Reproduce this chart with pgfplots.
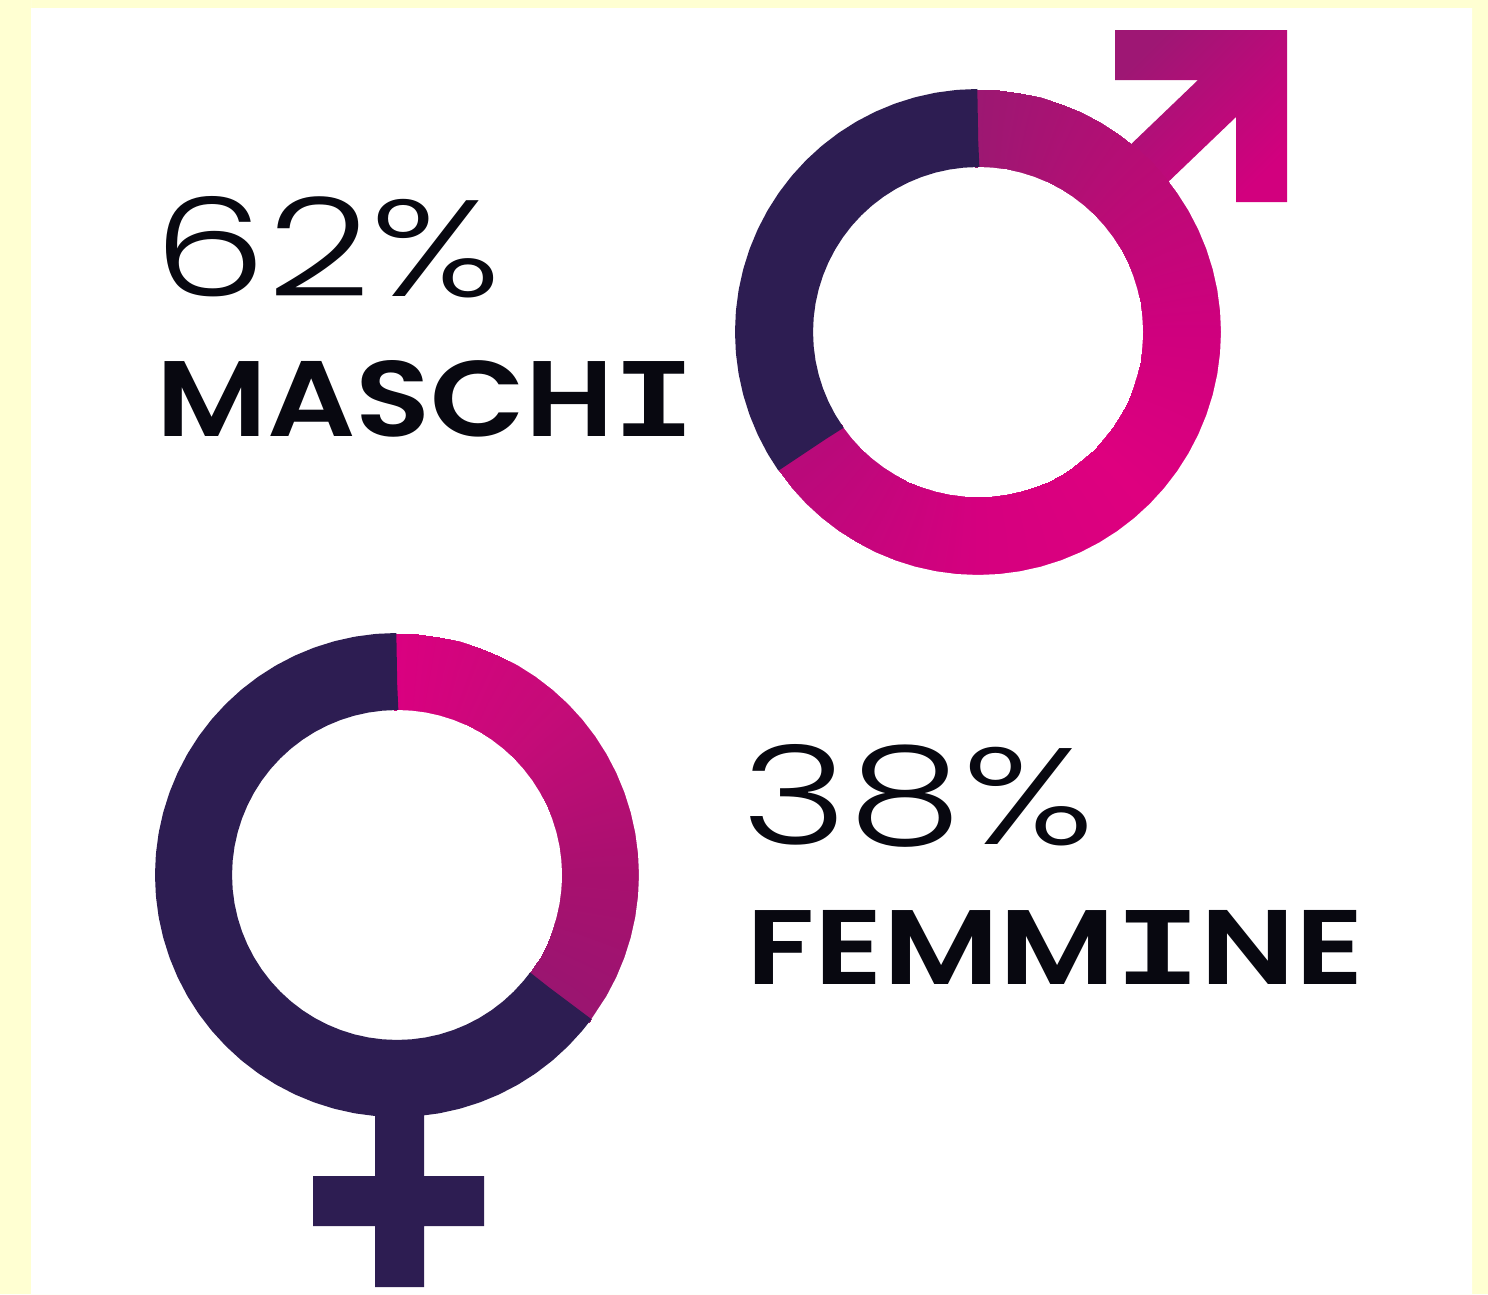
\documentclass[border=0pt]{standalone}
\usepackage{pgfplots}
\pgfplotsset{compat=1.18}
\usepgfplotslibrary{polar}
\usepackage{fontspec}
\setmainfont{Poppins}
\newfontfamily\lightf{Poppins Light}
\newfontfamily\boldf{Poppins SemiBold}
\newfontfamily\slabf{Liberation Mono Bold}
\definecolor{bgy}{RGB}{255,255,210}
\definecolor{dark}{RGB}{45,29,82}
\definecolor{ink}{RGB}{8,8,16}
\newcommand{\boxtext}[3]{\resizebox{#1pt}{#2pt}{\color{ink}#3}}
\newcommand{\slabI}{\scalebox{1.1}[1.06]{\slabf I}}
\pgfplotstableread{
a r
91 165
85 165
80 165
75 165
70 165
65 165
60 165
55 165
50 165
45 165
40 165
35 165
30 165
25 165
20 165
15 165
10 165
5 165
0 165
-5 165
-10 165
-15 165
-20 165
-25 165
-30 165
-35 165
-40 165
-45 165
-50 165
-55 165
-60 165
-65 165
-70 165
-75 165
-80 165
-85 165
-90 165
-95 165
-100 165
-105 165
-110 165
-115 165
-120 165
-125 165
-130 165
-135 165
-140 165
-146 165
91 243
85 243
80 243
75 243
70 243
65 243
60 243
55 243
50 243
45 243
40 243
35 243
30 243
25 243
20 243
15 243
10 243
5 243
0 243
-5 243
-10 243
-15 243
-20 243
-25 243
-30 243
-35 243
-40 243
-45 243
-50 243
-55 243
-60 243
-65 243
-70 243
-75 243
-80 243
-85 243
-90 243
-95 243
-100 243
-105 243
-110 243
-115 243
-120 243
-125 243
-130 243
-135 243
-140 243
-146 243
}\maschi
\pgfplotstableread{
a r
91 165
85 165
80 165
75 165
70 165
65 165
60 165
55 165
50 165
45 165
40 165
35 165
30 165
25 165
20 165
15 165
10 165
5 165
0 165
-5 165
-10 165
-15 165
-20 165
-25 165
-30 165
-37.5 165
91 242
85 242
80 242
75 242
70 242
65 242
60 242
55 242
50 242
45 242
40 242
35 242
30 242
25 242
20 242
15 242
10 242
5 242
0 242
-5 242
-10 242
-15 242
-20 242
-25 242
-30 242
-37.5 242
}\femmine
\begin{document}
\begin{tikzpicture}
\begin{axis}[name=page,at={(0pt,0pt)},anchor=south west,scale only axis,width=1488pt,height=1294pt,
  xmin=0,xmax=1488,ymin=0,ymax=1294,y dir=reverse,hide axis,clip=false]
\addplot[fill=bgy,draw=none] coordinates {(0,0)(1488,0)(1488,1294)(0,1294)} \closedcycle;
\addplot[fill=white,draw=none] coordinates {(31,8)(1472,8)(1472,1294)(31,1294)} \closedcycle;
% arrow of the male sign
\addplot[draw=none,shade,shading=axis,left color={rgb,255:red,158;green,23;blue,116},right color={rgb,255:red,210;green,0;blue,126},shading angle=45] coordinates {(1115,30)(1287,30)(1287,202)(1236,202)(1236,117)(1165,185)(1125,150)(1198,80)(1115,80)} -- cycle;
% cross of the female sign
\addplot[fill=dark,draw=none] coordinates {(375,1100)(424,1100)(424,1176)(484,1176)(484,1226)(424,1226)(424,1287)(375,1287)(375,1226)(313,1226)(313,1176)(375,1176)} -- cycle;
\node[anchor=south west,inner sep=0pt] at (axis cs:153.6,298) {\boxtext{347}{100}{\lightf 62\%}};
\node[anchor=south west,inner sep=0pt] at (axis cs:156,437) {\boxtext{539}{76}{\boldf MASCH\slabI}};
\node[anchor=south west,inner sep=0pt] at (axis cs:741.5,848) {\boxtext{353}{100}{\lightf 38\%}};
\node[anchor=south west,inner sep=0pt] at (axis cs:746,985) {\boxtext{617}{74}{\boldf FEMM\slabI NE}};
\end{axis}
% male ring
\begin{polaraxis}[at={(978pt,962pt)},anchor=center,scale only axis,width=486pt,height=486pt,
  xmin=0,xmax=360,ymin=0,ymax=243,hide axis,clip=false,
  colormap={mring}{rgb255(0)=(184,10,122) rgb255(55)=(213,0,127) rgb255(100)=(222,0,127) rgb255(145)=(207,0,126) rgb255(190)=(184,12,117) rgb255(235)=(156,24,114)}]
\addplot[surf,shader=interp,mesh/rows=2,point meta=x,point meta min=-145,point meta max=90] table[x=a,y=r] {\maschi};
% smooth edges over the shaded ring
\addplot[draw=white,line width=2pt] coordinates {(90,164)(85,164)(80,164)(75,164)(70,164)(65,164)(60,164)(55,164)(50,164)(45,164)(40,164)(35,164)(30,164)(25,164)(20,164)(15,164)(10,164)(5,164)(0,164)(-5,164)(-10,164)(-15,164)(-20,164)(-25,164)(-30,164)(-35,164)(-40,164)(-45,164)(-50,164)(-55,164)(-60,164)(-65,164)(-70,164)(-75,164)(-80,164)(-85,164)(-90,164)(-95,164)(-100,164)(-105,164)(-110,164)(-115,164)(-120,164)(-125,164)(-130,164)(-135,164)(-140,164)(-145,164)};
\addplot[draw=white,line width=2pt] coordinates {(90,244)(85,244)(80,244)(75,244)(70,244)(65,244)(60,244)(55,244)(51,244)};
\addplot[draw=white,line width=2pt] coordinates {(38,244)(35,244)(30,244)(25,244)(20,244)(15,244)(10,244)(5,244)(0,244)(-5,244)(-10,244)(-15,244)(-20,244)(-25,244)(-30,244)(-35,244)(-40,244)(-45,244)(-50,244)(-55,244)(-60,244)(-65,244)(-70,244)(-75,244)(-80,244)(-85,244)(-90,244)(-95,244)(-100,244)(-105,244)(-110,244)(-115,244)(-120,244)(-125,244)(-130,244)(-135,244)(-140,244)(-145,244)};
\addplot[draw=dark,line width=78pt,line join=round] coordinates {(90,204)(90.1,204)(95,204)(100,204)(105,204)(110,204)(115,204)(120,204)(125,204)(130,204)(135,204)(140,204)(145,204)(150,204)(155,204)(160,204)(165,204)(170,204)(175,204)(180,204)(185,204)(190,204)(195,204)(200,204)(205,204)(210,204)(214.9,204)(215,204)};
\end{polaraxis}
% female ring
\begin{polaraxis}[at={(397pt,419pt)},anchor=center,scale only axis,width=484pt,height=484pt,
  xmin=0,xmax=360,ymin=0,ymax=242,hide axis,clip=false,
  colormap={fring}{rgb255(0)=(154,21,112) rgb255(36)=(168,16,111) rgb255(81)=(196,12,120) rgb255(126)=(218,0,128)}]
\addplot[surf,shader=interp,mesh/rows=2,point meta=x,point meta min=-36.5,point meta max=90] table[x=a,y=r] {\femmine};
\addplot[draw=white,line width=2pt] coordinates {(90,164)(85,164)(80,164)(75,164)(70,164)(65,164)(60,164)(55,164)(50,164)(45,164)(40,164)(35,164)(30,164)(25,164)(20,164)(15,164)(10,164)(5,164)(0,164)(-5,164)(-10,164)(-15,164)(-20,164)(-25,164)(-30,164)(-36.5,164)};
\addplot[draw=white,line width=2pt] coordinates {(90,243)(85,243)(80,243)(75,243)(70,243)(65,243)(60,243)(55,243)(50,243)(45,243)(40,243)(35,243)(30,243)(25,243)(20,243)(15,243)(10,243)(5,243)(0,243)(-5,243)(-10,243)(-15,243)(-20,243)(-25,243)(-30,243)(-36.5,243)};
\addplot[draw=dark,line width=77pt,line join=round] coordinates {(90,203.5)(90.1,203.5)(95,203.5)(100,203.5)(105,203.5)(110,203.5)(115,203.5)(120,203.5)(125,203.5)(130,203.5)(135,203.5)(140,203.5)(145,203.5)(150,203.5)(155,203.5)(160,203.5)(165,203.5)(170,203.5)(175,203.5)(180,203.5)(185,203.5)(190,203.5)(195,203.5)(200,203.5)(205,203.5)(210,203.5)(215,203.5)(220,203.5)(225,203.5)(230,203.5)(235,203.5)(240,203.5)(245,203.5)(250,203.5)(255,203.5)(260,203.5)(265,203.5)(270,203.5)(275,203.5)(280,203.5)(285,203.5)(290,203.5)(295,203.5)(300,203.5)(305,203.5)(310,203.5)(315,203.5)(320,203.5)(323.4,203.5)(323.5,203.5)};
\end{polaraxis}
\end{tikzpicture}
\end{document}
